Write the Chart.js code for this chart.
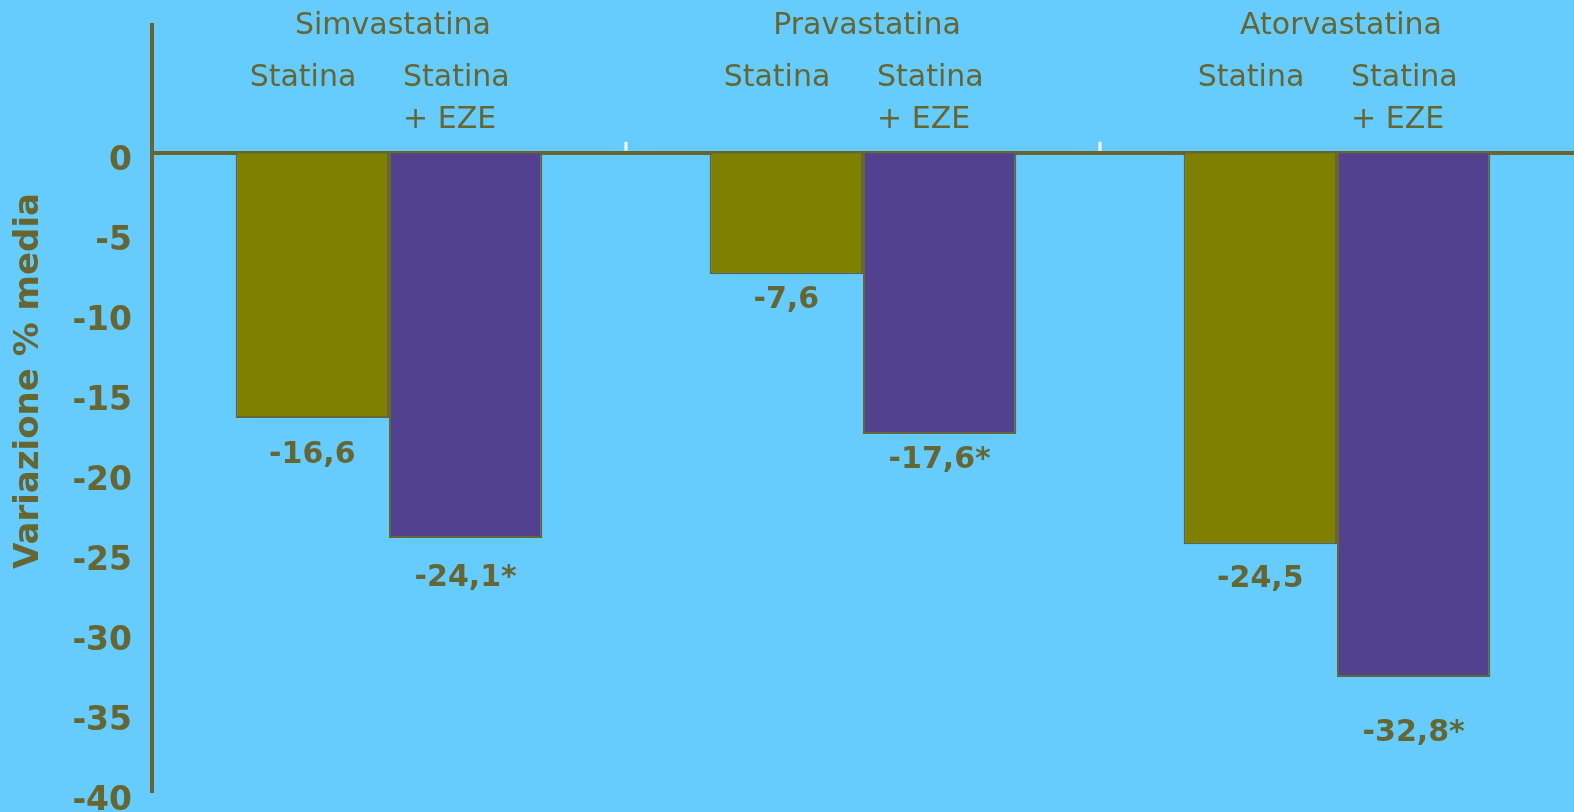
<!DOCTYPE html>
<html>
<head>
<meta charset="utf-8">
<script src="https://cdn.jsdelivr.net/npm/chart.js@4.4.1/dist/chart.umd.min.js"></script>
<style>
  html, body { margin: 0; padding: 0; background: #66ccff; }
  canvas { display: block; }
</style>
</head>
<body>
<canvas id="ldlBar" width="1574" height="812"></canvas>
<script>
const categories = ["Simvastatina", "Pravastatina", "Atorvastatina"];
const seriesNames = [["Statina"], ["Statina", "+ EZE"]];
const statinaValues = [-16.6, -7.6, -24.5];
const statinaEzeValues = [-24.1, -17.6, -32.8];
const statinaSignificant = [false, false, false];
const statinaEzeSignificant = [true, true, true];
const yTicks = [0, -5, -10, -15, -20, -25, -30, -35, -40];
const yTitle = "Variazione % media";

const textColor = "#666633";
const fontFamily = "'DejaVu Sans', Verdana, sans-serif";

function valueLabel(v, sig) {
  return v.toFixed(1).replace(".", ",") + (sig ? "*" : "");
}

// texts of the slide that sit outside the normal chart furniture
const slideText = {
  id: "slideText",
  afterDraw(chart, args, opts) {
    const ctx = chart.ctx;
    const x = chart.scales.x;
    const y = chart.scales.y;
    const zeroY = y.getPixelForValue(0);
    ctx.save();

    // little white separators between groups
    ctx.fillStyle = "#ffffff";
    for (let i = 1; i < categories.length; i++) {
      const sx = (x.getPixelForValue(i - 1) + x.getPixelForValue(i)) / 2;
      ctx.fillRect(sx - 1.5, zeroY - 11, 3, 9);
    }

    ctx.fillStyle = textColor;
    ctx.textBaseline = "middle";

    ctx.font = "30px " + fontFamily;
    ctx.textAlign = "center";
    categories.forEach((c, i) => {
      ctx.fillText(c, x.getPixelForValue(i) + 4, 26);
    });

    const sig = [statinaSignificant, statinaEzeSignificant];
    chart.data.datasets.forEach((ds, d) => {
      const meta = chart.getDatasetMeta(d);
      meta.data.forEach((bar, i) => {
        ctx.font = "30px " + fontFamily;
        ctx.textAlign = "left";
        seriesNames[d].forEach((line, k) => {
          ctx.fillText(line, bar.x - bar.width / 2 + 14, 78 + k * 42);
        });
        ctx.font = "bold 30px " + fontFamily;
        ctx.textAlign = "center";
        ctx.fillText(valueLabel(ds.data[i], sig[d][i]), bar.x, bar.y + opts.gaps[d][i]);
      });
    });

    ctx.translate(29, 381);
    ctx.rotate(-Math.PI / 2);
    ctx.font = "bold 34px " + fontFamily;
    ctx.textAlign = "center";
    ctx.fillText(yTitle, 0, 0);
    ctx.restore();
  },
};

const ctx = document.getElementById("ldlBar").getContext("2d");
const ldlChart = new Chart(ctx, {
  type: "bar",
  data: {
    labels: categories,
    datasets: [
      {
        label: seriesNames[0].join(" "),
        data: statinaValues,
        backgroundColor: "#808000",
        borderColor: textColor,
        borderWidth: 2,
      },
      {
        label: seriesNames[1].join(" "),
        data: statinaEzeValues,
        backgroundColor: "#52418f",
        borderColor: textColor,
        borderWidth: 2,
      },
    ],
  },
  options: {
    responsive: false,
    animation: false,
    devicePixelRatio: 1,
    categoryPercentage: 0.647,
    barPercentage: 1,
    layout: {
      padding: { top: 25, bottom: 20, left: 0, right: 0 },
    },
    scales: {
      x: {
        position: { y: 0 },
        z: 1,
        ticks: { display: false },
        grid: { display: false },
        border: { display: true, color: textColor, width: 4 },
        afterFit: (scale) => {
          scale.height = 0;
          scale.paddingLeft = 0;
          scale.paddingRight = 0;
        },
      },
      y: {
        min: -40,
        max: 8,
        afterBuildTicks: (scale) => {
          scale.ticks = yTicks.map((v) => ({ value: v }));
        },
        afterFit: (scale) => {
          scale.width = 152;
          scale.paddingTop = 0;
          scale.paddingBottom = 0;
        },
        ticks: {
          color: textColor,
          padding: 20,
          labelOffset: 9,
          font: { family: fontFamily, size: 33, weight: "bold" },
        },
        grid: { display: true, drawOnChartArea: false, drawTicks: false },
        border: { display: true, color: textColor, width: 4 },
      },
    },
    plugins: {
      legend: { display: false },
      tooltip: { enabled: false },
      slideText: {
        gaps: [
          [37, 26, 35],
          [40, 26, 56],
        ],
      },
    },
  },
  plugins: [slideText],
});
</script>
</body>
</html>
